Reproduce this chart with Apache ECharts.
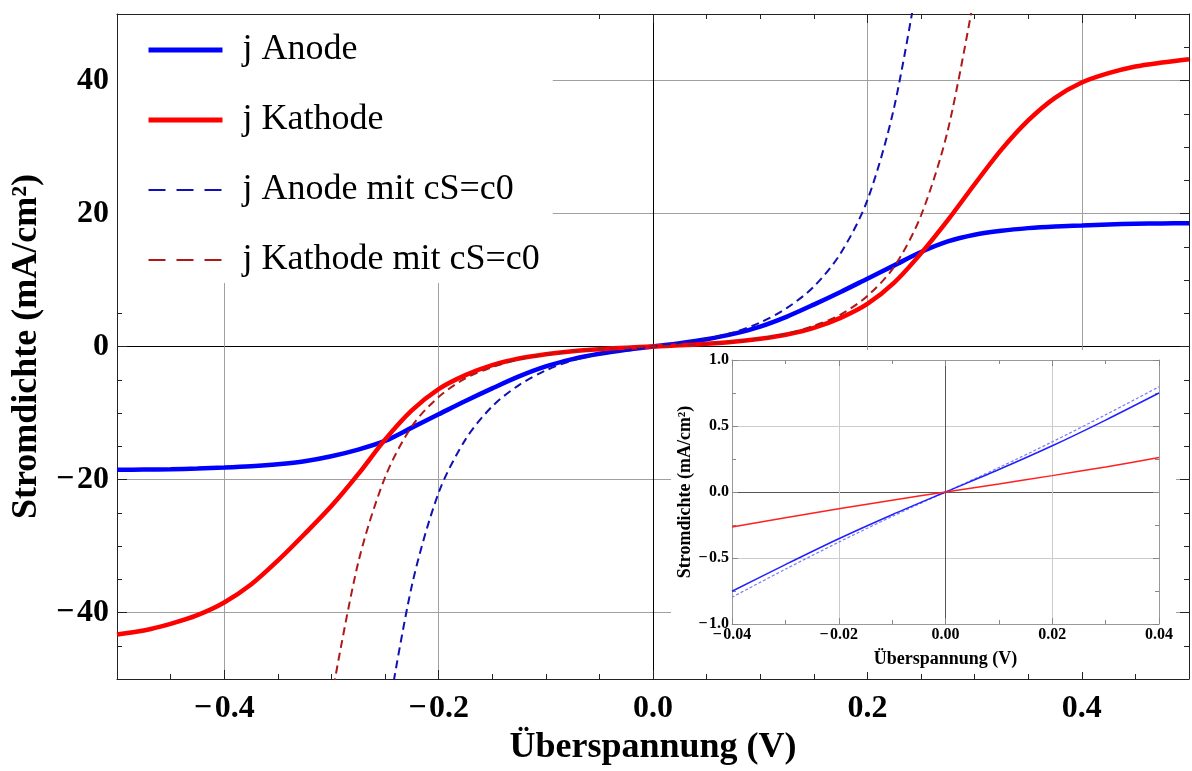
<!DOCTYPE html>
<html>
<head>
<meta charset="utf-8">
<script src="https://cdn.jsdelivr.net/npm/echarts/dist/echarts.min.js"></script>
<style>
  html, body { margin: 0; padding: 0; background: #fff; }
  #chart { width: 1192px; height: 771px; }
</style>
</head>
<body>
<div id="chart"></div>
<script>
// main plot: overpotential (V) vs current density (mA/cm²)
const xMain = [-0.5, -0.475, -0.45, -0.425, -0.4, -0.375, -0.35, -0.325, -0.3, -0.275,
  -0.25, -0.225, -0.2, -0.175, -0.15, -0.125, -0.1, -0.075, -0.05, -0.025, 0,
  0.025, 0.05, 0.075, 0.1, 0.125, 0.15, 0.175, 0.2, 0.225, 0.25,
  0.275, 0.3, 0.325, 0.35, 0.375, 0.4, 0.425, 0.45, 0.475, 0.5];
const jAnode = [-18.55, -18.5, -18.45, -18.35, -18.2, -18.0, -17.7, -17.25, -16.5, -15.5,
  -14.2, -12.2, -10.2, -8.2, -6.3, -4.5, -3.0, -1.9, -1.1, -0.5, 0,
  0.5, 1.1, 1.9, 3.0, 4.5, 6.3, 8.2, 10.2, 12.2, 14.2,
  15.8, 16.8, 17.4, 17.8, 18.05, 18.2, 18.35, 18.45, 18.5, 18.55];
const jKathode = [-43.3, -42.7, -41.7, -40.4, -38.5, -35.8, -32.2, -28.2, -24.0, -19.2,
  -14.0, -9.6, -6.4, -4.3, -2.8, -1.8, -1.15, -0.7, -0.4, -0.17, 0,
  0.17, 0.4, 0.7, 1.15, 1.8, 2.8, 4.3, 6.4, 9.6, 14.0,
  19.0, 24.4, 29.6, 34.0, 37.4, 39.7, 41.1, 42.1, 42.7, 43.2];

const xAnodeC0 = [-0.25, -0.225, -0.2, -0.175, -0.15, -0.125, -0.1, -0.075, -0.05, -0.025, 0,
  0.025, 0.05, 0.075, 0.1, 0.125, 0.15, 0.175, 0.2, 0.225, 0.25];
const jAnodeC0 = [-58, -36, -22, -14, -9, -5.8, -3.6, -2.1, -1.2, -0.55, 0,
  0.55, 1.2, 2.1, 3.6, 5.8, 9, 14, 22, 36, 58];

const xKathodeC0 = [-0.3, -0.275, -0.25, -0.225, -0.2, -0.175, -0.15, -0.125, -0.1, -0.075, -0.05, -0.025, 0,
  0.025, 0.05, 0.075, 0.1, 0.125, 0.15, 0.175, 0.2, 0.225, 0.25, 0.275, 0.3];
const jKathodeC0 = [-53, -32.5, -19.7, -12.0, -7.6, -4.8, -3.1, -1.95, -1.2, -0.72, -0.4, -0.17, 0,
  0.17, 0.4, 0.72, 1.2, 1.95, 3.1, 4.8, 7.6, 12.0, 19.7, 32.5, 53];

// inset: zoom around 0
const xInset = [-0.04, -0.03, -0.02, -0.01, 0, 0.01, 0.02, 0.03, 0.04];
const insetAnode = [-0.752, -0.55, -0.354, -0.172, 0, 0.17, 0.35, 0.545, 0.75];
const insetAnodeC0 = [-0.797, -0.585, -0.38, -0.185, 0, 0.185, 0.38, 0.585, 0.797];
const insetKathode = [-0.265, -0.195, -0.127, -0.062, 0, 0.061, 0.124, 0.19, 0.261];

const seriesNames = ['j Anode', 'j Kathode', 'j Anode mit cS=c0', 'j Kathode mit cS=c0'];

const FONT = 'Liberation Serif';
const MINUS = '\u2212';

const pairs = (xs, ys) => xs.map((x, i) => [x, ys[i]]);
const signed = (v, digits) => (v < 0 ? MINUS + '\u200a' : '') + Math.abs(v).toFixed(digits);

const chart = echarts.init(document.getElementById('chart'));

// frame axis (no labels), used for top / right sides
function frameAxis(extra) {
  return Object.assign({
    type: 'value',
    axisLine: { show: true, onZero: false, lineStyle: { color: '#222', width: 1 } },
    axisTick: { show: true, inside: true, length: 9, lineStyle: { color: '#222' } },
    minorTick: { show: true, splitNumber: 4, length: 5, lineStyle: { color: '#222' } },
    axisLabel: { show: false },
    splitLine: { show: false },
  }, extra);
}

function insetAxis(extra) {
  return Object.assign({
    type: 'value',
    z: 5,
    axisLine: { show: true, onZero: false, lineStyle: { color: '#999', width: 1 } },
    axisTick: { show: true, inside: true, length: 6, lineStyle: { color: '#888' } },
    minorTick: { show: true, splitNumber: 2, length: 4, lineStyle: { color: '#888' } },
    axisLabel: { show: false },
    splitLine: { show: false },
  }, extra);
}

const mainGridColors = ['#333', '#a0a0a0', '#a0a0a0', '#000', '#a0a0a0', '#a0a0a0', '#333'];
const insetGridColors = ['#999', '#cccccc', '#555', '#cccccc', '#999'];

// legend swatches: plain lines, no symbol
const hideSymbol = { opacity: 0 };

const option = {
  animation: false,
  backgroundColor: '#fff',
  textStyle: { fontFamily: FONT },
  grid: [
    { left: 117, right: 0, top: 14, bottom: 90 },
    { left: 732, right: 33, top: 360, bottom: 147, z: 5 },
  ],
  legend: {
    orient: 'vertical',
    left: 118,
    top: 15,
    backgroundColor: '#fff',
    padding: [17, 13, 5, 28],
    itemWidth: 74,
    itemHeight: 30,
    itemGap: 34,
    selectedMode: false,
    textStyle: { fontFamily: FONT, fontSize: 36, color: '#000', padding: [0, 0, 0, 15] },
    data: [
      { name: seriesNames[0], itemStyle: hideSymbol, lineStyle: { width: 5 } },
      { name: seriesNames[1], itemStyle: hideSymbol, lineStyle: { width: 5 } },
      { name: seriesNames[2], itemStyle: hideSymbol, lineStyle: { width: 2, type: [17, 11] } },
      { name: seriesNames[3], itemStyle: hideSymbol, lineStyle: { width: 2, type: [17, 11] } },
    ],
  },
  graphic: [
    {
      type: 'rect',
      z: 3,
      silent: true,
      shape: { x: 671, y: 350, width: 505, height: 322 },
      style: { fill: '#fff' },
    },
  ],
  xAxis: [
    {
      type: 'value',
      gridIndex: 0,
      min: -0.5,
      max: 0.5,
      splitNumber: 5,
      position: 'bottom',
      axisLine: { show: true, onZero: false, lineStyle: { color: '#222', width: 1 } },
      axisTick: { show: true, inside: true, length: 9, lineStyle: { color: '#222' } },
      minorTick: { show: true, splitNumber: 4, length: 5, lineStyle: { color: '#222' } },
      splitLine: { show: true, lineStyle: { color: mainGridColors, width: 1 } },
      axisLabel: {
        margin: 14,
        fontFamily: FONT,
        fontSize: 32,
        fontWeight: 'bold',
        color: '#000',
        formatter: (v) => (Math.abs(v) > 0.45 ? '' : signed(v, 1)),
      },
      name: 'Überspannung (V)',
      nameLocation: 'middle',
      nameGap: 51,
      nameTextStyle: { fontFamily: FONT, fontSize: 36, fontWeight: 'bold', color: '#000' },
    },
    frameAxis({ gridIndex: 0, min: -0.5, max: 0.5, splitNumber: 5, position: 'top' }),
    insetAxis({
      gridIndex: 1,
      min: -0.04,
      max: 0.04,
      interval: 0.02,
      position: 'bottom',
      splitLine: { show: true, lineStyle: { color: insetGridColors, width: 1 } },
      axisLabel: {
        margin: 3,
        fontFamily: FONT,
        fontSize: 16,
        fontWeight: 'bold',
        color: '#000',
        formatter: (v) => signed(v, 2),
      },
      name: 'Überspannung (V)',
      nameLocation: 'middle',
      nameGap: 26,
      nameTextStyle: { fontFamily: FONT, fontSize: 18, fontWeight: 'bold', color: '#000' },
    }),
    insetAxis({ gridIndex: 1, min: -0.04, max: 0.04, interval: 0.02, position: 'top' }),
  ],
  yAxis: [
    {
      type: 'value',
      gridIndex: 0,
      min: -50,
      max: 50,
      splitNumber: 5,
      position: 'left',
      axisLine: { show: true, onZero: false, lineStyle: { color: '#222', width: 1 } },
      axisTick: { show: true, inside: true, length: 10, lineStyle: { color: '#222' } },
      minorTick: { show: true, splitNumber: 4, length: 5, lineStyle: { color: '#222' } },
      splitLine: { show: true, lineStyle: { color: mainGridColors, width: 1 } },
      axisLabel: {
        margin: 8,
        fontFamily: FONT,
        fontSize: 32,
        fontWeight: 'bold',
        color: '#000',
        formatter: (v) => (Math.abs(v) > 45 ? '' : signed(v, 0)),
      },
      name: 'Stromdichte (mA/cm²)',
      nameLocation: 'middle',
      nameGap: 56,
      nameTextStyle: { fontFamily: FONT, fontSize: 36, fontWeight: 'bold', color: '#000' },
    },
    frameAxis({ gridIndex: 0, min: -50, max: 50, splitNumber: 5, position: 'right' }),
    insetAxis({
      gridIndex: 1,
      min: -1,
      max: 1,
      interval: 0.5,
      position: 'left',
      splitLine: { show: true, lineStyle: { color: insetGridColors, width: 1 } },
      axisLabel: {
        margin: 3,
        fontFamily: FONT,
        fontSize: 16,
        fontWeight: 'bold',
        color: '#000',
        formatter: (v) => signed(v, 1),
      },
      name: 'Stromdichte (mA/cm²)',
      nameLocation: 'middle',
      nameGap: 38,
      nameTextStyle: { fontFamily: FONT, fontSize: 18, fontWeight: 'bold', color: '#000' },
    }),
    insetAxis({ gridIndex: 1, min: -1, max: 1, interval: 0.5, position: 'right' }),
  ],
  series: [
    {
      name: seriesNames[0], type: 'line', xAxisIndex: 0, yAxisIndex: 0,
      data: pairs(xMain, jAnode), symbol: 'none', smooth: 0.3, z: 2,
      lineStyle: { color: '#0000ff', width: 4.5 }, itemStyle: { color: '#0000ff' },
    },
    {
      name: seriesNames[1], type: 'line', xAxisIndex: 0, yAxisIndex: 0,
      data: pairs(xMain, jKathode), symbol: 'none', smooth: 0.3, z: 2,
      lineStyle: { color: '#ff0000', width: 4.5 }, itemStyle: { color: '#ff0000' },
    },
    {
      name: seriesNames[2], type: 'line', xAxisIndex: 0, yAxisIndex: 0,
      data: pairs(xAnodeC0, jAnodeC0), symbol: 'none', smooth: 0.3, z: 2,
      lineStyle: { color: '#1010b4', width: 2, type: [8, 5] }, itemStyle: { color: '#1010b4' },
    },
    {
      name: seriesNames[3], type: 'line', xAxisIndex: 0, yAxisIndex: 0,
      data: pairs(xKathodeC0, jKathodeC0), symbol: 'none', smooth: 0.3, z: 2,
      lineStyle: { color: '#b01818', width: 2, type: [8, 5] }, itemStyle: { color: '#b01818' },
    },
    {
      name: 'Ausschnitt Anode mit cS=c0', type: 'line', xAxisIndex: 2, yAxisIndex: 2,
      data: pairs(xInset, insetAnodeC0), symbol: 'none', smooth: 0.3, z: 6,
      lineStyle: { color: '#7a7aff', width: 1.2, type: [3, 2] },
    },
    {
      name: 'Ausschnitt Anode', type: 'line', xAxisIndex: 2, yAxisIndex: 2,
      data: pairs(xInset, insetAnode), symbol: 'none', smooth: 0.3, z: 6,
      lineStyle: { color: '#2020ff', width: 1.5 },
    },
    {
      name: 'Ausschnitt Kathode', type: 'line', xAxisIndex: 2, yAxisIndex: 2,
      data: pairs(xInset, insetKathode), symbol: 'none', smooth: 0.3, z: 6,
      lineStyle: { color: '#ff2020', width: 1.5 },
    },
  ],
};

chart.setOption(option);
</script>
</body>
</html>
